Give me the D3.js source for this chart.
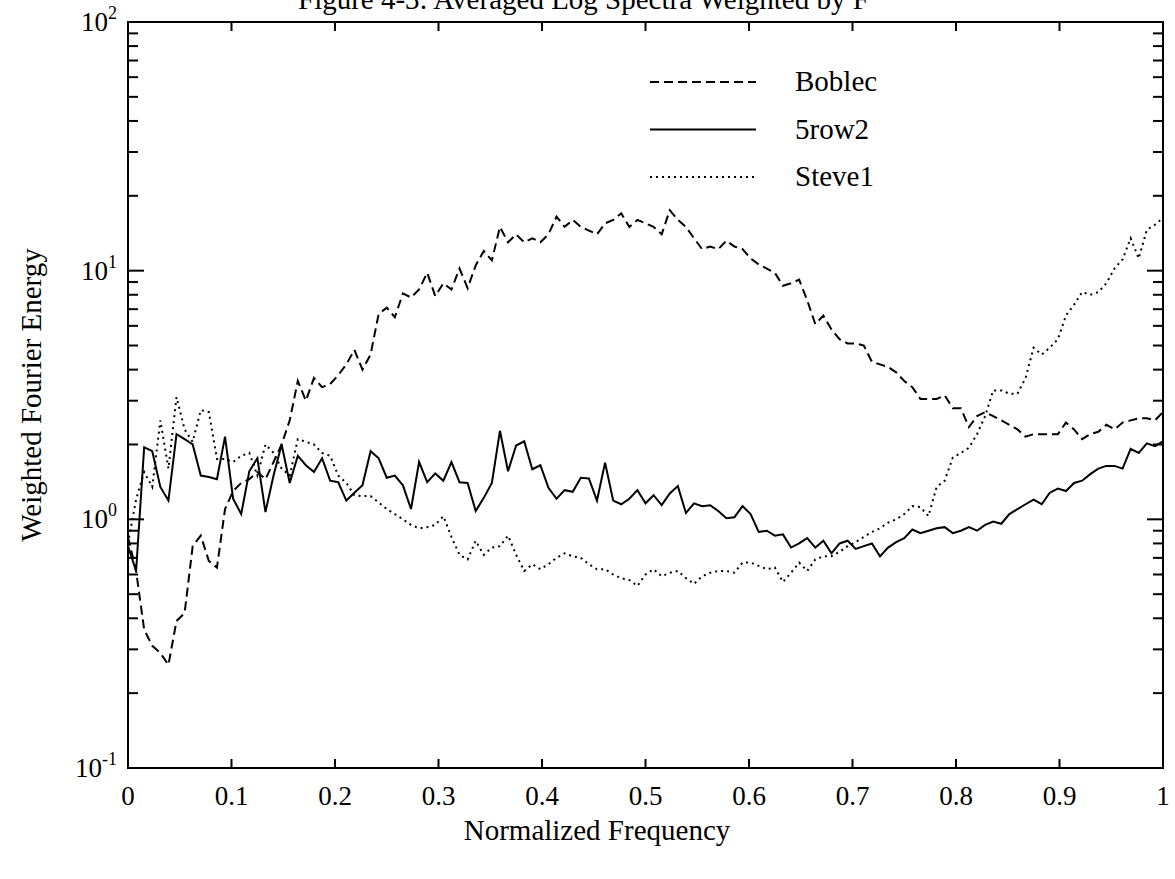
<!DOCTYPE html>
<html>
<head>
<meta charset="utf-8">
<script src="https://cdn.jsdelivr.net/npm/d3@7"></script>
<style>
  body { margin: 0; background: #fff; }
  text { font-family: "Liberation Serif", "Times New Roman", serif; fill: #000; }
</style>
</head>
<body>
<div id="graph"></div>
<script>
// frequency step is 1/128, 129 points from 0 to 1
var nPts = 129;

var boblec = [0.85,0.62,0.36,0.31,0.29,0.26,0.39,0.42,0.78,0.86,
  0.68,0.64,1.1,1.3,1.4,1.45,1.55,1.45,1.7,2.0,
  2.5,3.6,3.0,3.7,3.4,3.5,3.8,4.2,4.8,4.0,
  4.6,6.7,7.1,6.5,8.1,7.8,8.4,9.8,7.9,8.9,
  8.4,10.2,8.5,10.5,12,11,15,13,14,13,
  13.5,13,14,16.5,15,16,15,14.5,14,15.5,
  16,17,15,16,15.5,15,14,17.5,16,15,
  13.5,12.2,12.5,12.2,13.2,12.5,12.2,11.2,10.6,10.2,
  9.8,8.7,8.9,9.2,7.6,6.1,6.6,5.8,5.3,5.1,
  5.1,5.0,4.3,4.2,4.1,3.9,3.6,3.4,3.05,3.05,
  3.05,3.15,2.8,2.8,2.35,2.6,2.7,2.6,2.5,2.4,
  2.3,2.15,2.2,2.2,2.2,2.2,2.45,2.3,2.1,2.2,
  2.25,2.4,2.3,2.45,2.5,2.55,2.55,2.5,2.7];

var row2 = [0.78,0.62,1.95,1.88,1.35,1.19,2.2,2.1,2.0,1.5,
  1.48,1.45,2.15,1.21,1.05,1.56,1.76,1.07,1.5,2.0,
  1.4,1.8,1.65,1.55,1.76,1.43,1.41,1.19,1.28,1.37,
  1.88,1.76,1.47,1.5,1.37,1.1,1.70,1.41,1.53,1.43,
  1.70,1.41,1.40,1.08,1.22,1.40,2.27,1.56,1.98,2.06,
  1.59,1.65,1.34,1.21,1.31,1.29,1.47,1.46,1.19,1.69,
  1.19,1.15,1.21,1.31,1.16,1.25,1.14,1.27,1.36,1.06,
  1.16,1.13,1.14,1.08,1.01,1.02,1.13,1.05,0.89,0.90,
  0.86,0.87,0.77,0.80,0.84,0.77,0.82,0.73,0.80,0.82,
  0.76,0.78,0.80,0.71,0.77,0.81,0.84,0.91,0.88,0.90,
  0.92,0.93,0.88,0.90,0.93,0.90,0.95,0.98,0.96,1.05,
  1.10,1.15,1.20,1.15,1.28,1.33,1.30,1.40,1.43,1.52,
  1.60,1.64,1.64,1.60,1.92,1.85,2.02,1.97,2.06];

var steve1 = [0.8,1.2,1.55,1.35,2.5,1.6,3.1,2.3,2.05,2.75,
  2.7,1.75,1.75,1.7,1.8,1.85,1.5,2.0,1.85,1.6,
  1.5,2.1,2.05,2.0,1.85,1.8,1.5,1.4,1.25,1.24,
  1.24,1.17,1.1,1.05,1.0,0.95,0.92,0.93,0.95,1.03,
  0.85,0.72,0.69,0.82,0.72,0.77,0.78,0.86,0.72,0.62,
  0.66,0.63,0.66,0.70,0.73,0.71,0.70,0.66,0.63,0.63,
  0.60,0.58,0.57,0.54,0.60,0.63,0.59,0.61,0.62,0.58,
  0.55,0.59,0.61,0.62,0.62,0.61,0.67,0.67,0.65,0.63,
  0.64,0.56,0.61,0.67,0.62,0.69,0.71,0.71,0.74,0.78,
  0.81,0.85,0.89,0.92,0.97,1.0,1.05,1.13,1.12,1.03,
  1.35,1.43,1.77,1.85,1.94,2.2,2.6,3.3,3.3,3.2,
  3.2,3.7,4.9,4.6,4.9,5.3,6.6,7.3,8.2,8.0,
  8.2,8.9,10.2,11.1,13.5,11.2,14.6,15.3,16.3];

var seriesNames = ["Boblec", "5row2", "Steve1"];
var seriesDash = ["9,5", null, "2,4"];
var xTicks = [0, 0.1, 0.2, 0.3, 0.4, 0.5, 0.6, 0.7, 0.8, 0.9, 1];
var xTickLabels = ["0", "0.1", "0.2", "0.3", "0.4", "0.5", "0.6", "0.7", "0.8", "0.9", "1"];
var yTicks = [0.1, 1, 10, 100];
var yExps = ["-1", "0", "1", "2"];

var freq = d3.range(nPts).map(function(i) { return i / 128; });
var allSeries = [boblec, row2, steve1];

var W = 1175, H = 879;
var margin = {left: 128, right: 12, top: 22, bottom: 111};

var svg = d3.select("#graph").append("svg")
  .attr("width", W)
  .attr("height", H);

var x = d3.scaleLinear().domain([0, 1]).range([margin.left, W - margin.right]);
var y = d3.scaleLog().domain([0.1, 100]).range([H - margin.bottom, margin.top]);

// title (its top is cut off in the scan)
svg.append("text")
  .attr("x", 298).attr("y", 9)
  .attr("font-size", 29)
  .text("Figure 4-3: Averaged Log Spectra Weighted by F")
  .append("tspan").attr("dy", -11).attr("font-size", 19).text("3");

// minor log ticks
var minor = [];
[0.1, 1, 10].forEach(function(d) {
  for (var k = 2; k <= 9; k++) minor.push(d * k);
});

var g = svg.append("g").attr("stroke", "#000").attr("stroke-width", 2);

// frame
g.append("rect")
  .attr("x", x(0)).attr("y", y(100))
  .attr("width", x(1) - x(0)).attr("height", y(0.1) - y(100))
  .attr("fill", "none");

// x ticks bottom and top
g.selectAll(".xt").data(xTicks).enter().append("line")
  .attr("x1", function(d) { return x(d); }).attr("x2", function(d) { return x(d); })
  .attr("y1", y(0.1)).attr("y2", y(0.1) - 9);
g.selectAll(".xtt").data(xTicks).enter().append("line")
  .attr("x1", function(d) { return x(d); }).attr("x2", function(d) { return x(d); })
  .attr("y1", y(100)).attr("y2", y(100) + 9);

// y ticks left and right
g.selectAll(".yt").data(yTicks).enter().append("line")
  .attr("x1", x(0)).attr("x2", x(0) + 16)
  .attr("y1", function(d) { return y(d); }).attr("y2", function(d) { return y(d); });
g.selectAll(".ytr").data(yTicks).enter().append("line")
  .attr("x1", x(1)).attr("x2", x(1) - 16)
  .attr("y1", function(d) { return y(d); }).attr("y2", function(d) { return y(d); });
g.selectAll(".ym").data(minor).enter().append("line")
  .attr("x1", x(0)).attr("x2", x(0) + 10)
  .attr("y1", function(d) { return y(d); }).attr("y2", function(d) { return y(d); });
g.selectAll(".ymr").data(minor).enter().append("line")
  .attr("x1", x(1)).attr("x2", x(1) - 10)
  .attr("y1", function(d) { return y(d); }).attr("y2", function(d) { return y(d); });

// x tick labels
svg.selectAll(".xl").data(xTicks).enter().append("text")
  .attr("x", function(d) { return x(d); })
  .attr("y", y(0.1) + 37)
  .attr("text-anchor", "middle")
  .attr("font-size", 27)
  .text(function(d, i) { return xTickLabels[i]; });

// y tick labels 10^n
var yl = svg.selectAll(".yl").data(yTicks).enter().append("text")
  .attr("x", 117)
  .attr("y", function(d) { return y(d) + 9; })
  .attr("text-anchor", "end")
  .attr("font-size", 27);
yl.append("tspan").text("10");
yl.append("tspan").attr("dy", -12).attr("font-size", 18)
  .text(function(d, i) { return yExps[i]; });

// axis titles
svg.append("text")
  .attr("x", 597).attr("y", 840)
  .attr("text-anchor", "middle")
  .attr("font-size", 29)
  .text("Normalized Frequency");
svg.append("text")
  .attr("transform", "translate(41," + y(Math.sqrt(10)) + ") rotate(-90)")
  .attr("text-anchor", "middle")
  .attr("font-size", 29)
  .text("Weighted Fourier Energy");

// data lines
var line = d3.line()
  .x(function(d, i) { return x(freq[i]); })
  .y(function(d) { return y(d); });

svg.selectAll(".series").data(allSeries).enter().append("path")
  .attr("d", line)
  .attr("fill", "none")
  .attr("stroke", "#000")
  .attr("stroke-width", 2)
  .attr("stroke-dasharray", function(d, i) { return seriesDash[i]; });

// legend
var leg = svg.selectAll(".leg").data(seriesNames).enter().append("g")
  .attr("transform", function(d, i) { return "translate(650," + (82 + i * 47.5) + ")"; });
leg.append("line")
  .attr("x1", 0).attr("x2", 106).attr("y1", 0).attr("y2", 0)
  .attr("stroke", "#000").attr("stroke-width", 2)
  .attr("stroke-dasharray", function(d, i) { return seriesDash[i]; });
leg.append("text")
  .attr("x", 145).attr("y", 9)
  .attr("font-size", 29)
  .text(function(d) { return d; });
</script>
</body>
</html>
